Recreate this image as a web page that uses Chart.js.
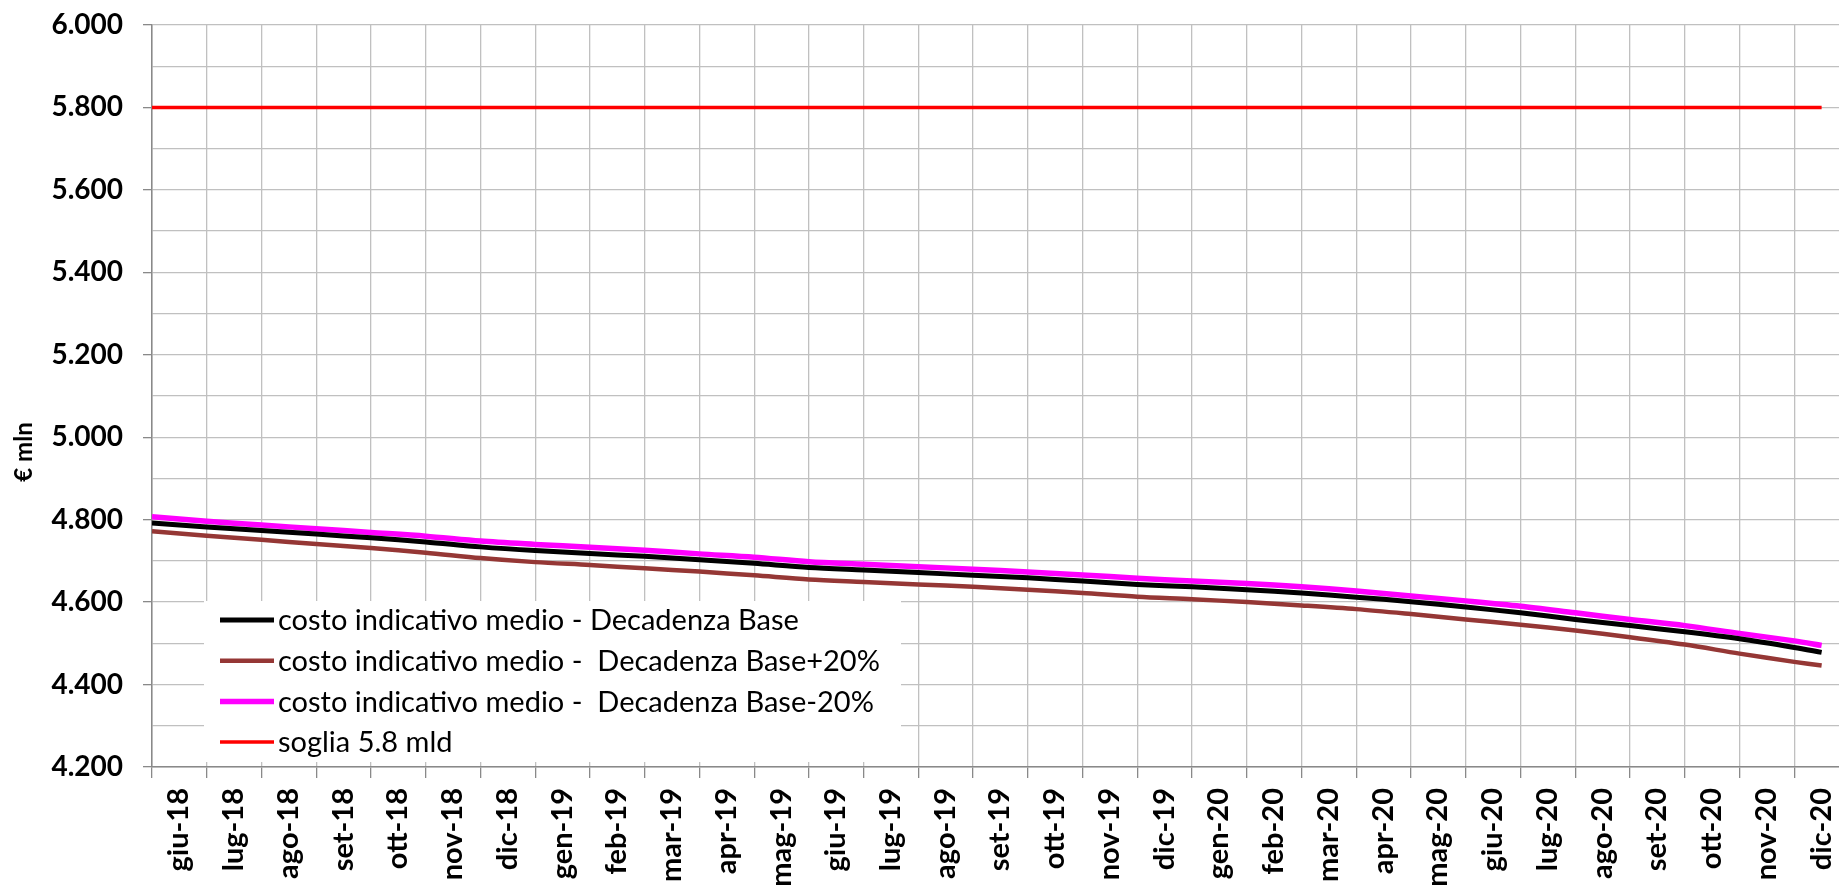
<!DOCTYPE html>
<html lang="it">
<head>
<meta charset="utf-8">
<title>Costo indicativo medio</title>
<script src="https://cdn.jsdelivr.net/npm/chart.js@4.4.1/dist/chart.umd.min.js"></script>
<style>
  html, body { margin: 0; padding: 0; background: #fff; overflow: hidden; }
  #wrap { width: 1870px; height: 885px; }
</style>
</head>
<body>
<div id="wrap"><canvas id="chart"></canvas></div>
<script>
var monthLabels = [
  'giu-18', 'lug-18', 'ago-18', 'set-18', 'ott-18', 'nov-18', 'dic-18',
  'gen-19', 'feb-19', 'mar-19', 'apr-19', 'mag-19', 'giu-19', 'lug-19', 'ago-19', 'set-19', 'ott-19', 'nov-19', 'dic-19',
  'gen-20', 'feb-20', 'mar-20', 'apr-20', 'mag-20', 'giu-20', 'lug-20', 'ago-20', 'set-20', 'ott-20', 'nov-20', 'dic-20'
];

// where each reading sits on the axis, in months from the start of giu-18
var monthPos = [0, 1, 2, 3, 4, 5, 6, 7, 8, 9, 10, 11, 12, 13, 14, 15, 16, 17, 18, 19, 20, 21, 22, 23, 24, 25, 26, 27, 28, 29, 30, 30.5];

var costoBase = [4792, 4782, 4774, 4765, 4756, 4746, 4734, 4725, 4718, 4711, 4703, 4694, 4684, 4678, 4672, 4665,
  4659, 4651, 4643, 4637, 4630, 4622, 4612, 4601, 4588, 4574, 4558, 4543, 4528, 4511, 4490, 4478];
var costoBasePiu20 = [4772, 4761, 4751, 4741, 4731, 4720, 4707, 4697, 4690, 4682, 4674, 4665, 4655, 4649, 4643, 4637,
  4630, 4622, 4613, 4607, 4600, 4592, 4583, 4571, 4558, 4545, 4531, 4515, 4497, 4475, 4455, 4446];
var costoBaseMeno20 = [4807, 4796, 4787, 4778, 4769, 4760, 4748, 4740, 4733, 4726, 4717, 4709, 4698, 4692, 4686, 4680,
  4673, 4666, 4658, 4651, 4645, 4637, 4627, 4615, 4603, 4590, 4574, 4558, 4543, 4524, 4506, 4495];

var sogliaPos = [0, 30.5];
var soglia = [5800, 5800];

var seriesNames = [
  'costo indicativo medio - Decadenza Base',
  'costo indicativo medio -  Decadenza Base+20%',
  'costo indicativo medio -  Decadenza Base-20%',
  'soglia 5.8 mld'
];

var yMin = 4200, yMax = 6000, yStep = 100, yLabelStep = 200;
var xMax = 31;

(function () {
  'use strict';

  var FONT = 'Lato, "Open Sans", sans-serif';
  var GRID = '#c0c0c0';
  var AXIS = '#898989';

  function toPoints(xs, ys) {
    return ys.map(function (v, i) { return { x: xs[i], y: v }; });
  }

  function formatThousands(v) {
    var k = Math.floor(v / 1000);
    var r = String(v % 1000);
    while (r.length < 3) r = '0' + r;
    return k + '.' + r;
  }

  // legend drawn inside the plot, on a white box over the grid
  var legendBox = {
    id: 'legendBox',
    beforeDatasetsDraw: function (chart) {
      var ctx = chart.ctx;
      var area = chart.chartArea;
      var x = area.left + 52;
      var y = area.bottom - 166;
      ctx.save();
      ctx.fillStyle = '#ffffff';
      ctx.fillRect(x, y, 697, 161);
      ctx.font = '29px ' + FONT;
      ctx.textBaseline = 'middle';
      ctx.textAlign = 'left';
      chart.data.datasets.forEach(function (ds, i) {
        var cy = y + 19 + i * 40.7;
        ctx.strokeStyle = ds.borderColor;
        ctx.lineWidth = ds.borderWidth;
        ctx.beginPath();
        ctx.moveTo(x + 16, cy);
        ctx.lineTo(x + 70, cy);
        ctx.stroke();
        ctx.fillStyle = '#000000';
        ctx.fillText(ds.label, x + 74, cy + 1);
      });
      ctx.restore();
    }
  };

  var yTitle = {
    id: 'yTitle',
    afterDraw: function (chart) {
      var ctx = chart.ctx;
      ctx.save();
      ctx.translate(24, 452);
      ctx.rotate(-Math.PI / 2);
      ctx.font = 'bold 24px ' + FONT;
      ctx.fillStyle = '#000000';
      ctx.textAlign = 'center';
      ctx.textBaseline = 'middle';
      ctx.fillText('€ mln', 0, 0);
      ctx.restore();
    }
  };

  var ctx = document.getElementById('chart');

  new Chart(ctx, {
    type: 'line',
    data: {
      datasets: [{
        label: seriesNames[0],
        data: toPoints(monthPos, costoBase),
        borderColor: '#000000',
        borderWidth: 5,
        order: 2
      }, {
        label: seriesNames[1],
        data: toPoints(monthPos, costoBasePiu20),
        borderColor: '#953735',
        borderWidth: 4.5,
        order: 3
      }, {
        label: seriesNames[2],
        data: toPoints(monthPos, costoBaseMeno20),
        borderColor: '#ff00ff',
        borderWidth: 5.5,
        order: 4
      }, {
        label: seriesNames[3],
        data: toPoints(sogliaPos, soglia),
        borderColor: '#ff0000',
        borderWidth: 3.5,
        order: 1
      }]
    },
    options: {
      responsive: true,
      maintainAspectRatio: false,
      animation: false,
      layout: { padding: { top: 25, left: 0, right: 21, bottom: 0 } },
      elements: {
        point: { radius: 0, hoverRadius: 0 },
        line: { tension: 0.3, fill: false }
      },
      plugins: {
        legend: { display: false },
        tooltip: { enabled: false }
      },
      scales: {
        x: {
          type: 'linear',
          min: 0,
          max: xMax,
          border: { color: AXIS, width: 1.5 },
          grid: { color: GRID, lineWidth: 1.3, tickLength: 11, tickColor: AXIS },
          ticks: {
            stepSize: 1,
            autoSkip: false,
            minRotation: 90,
            maxRotation: 90,
            labelOffset: 27,
            padding: 10,
            color: '#000000',
            font: { family: FONT, size: 29, weight: 'bold' },
            callback: function (value) { return monthLabels[value] || ''; }
          },
          afterFit: function (scale) {
            scale.height = 118;
            scale.paddingLeft = 0;
            scale.paddingRight = 0;
          }
        },
        y: {
          min: yMin,
          max: yMax,
          border: { color: AXIS, width: 1.5 },
          grid: {
            color: GRID,
            lineWidth: 1.3,
            tickLength: 9,
            tickColor: function (c) {
              return c.tick && c.tick.value % yLabelStep === 0 ? AXIS : 'rgba(0,0,0,0)';
            }
          },
          ticks: {
            stepSize: yStep,
            autoSkip: false,
            padding: 20,
            color: '#000000',
            font: { family: FONT, size: 28, weight: 'bold' },
            callback: function (value) {
              return value % yLabelStep === 0 ? formatThousands(value) : '';
            }
          },
          afterFit: function (scale) {
            scale.width = 152;
            scale.paddingTop = 0;
            scale.paddingBottom = 0;
          }
        }
      }
    },
    plugins: [legendBox, yTitle]
  });
})();
</script>
</body>
</html>
